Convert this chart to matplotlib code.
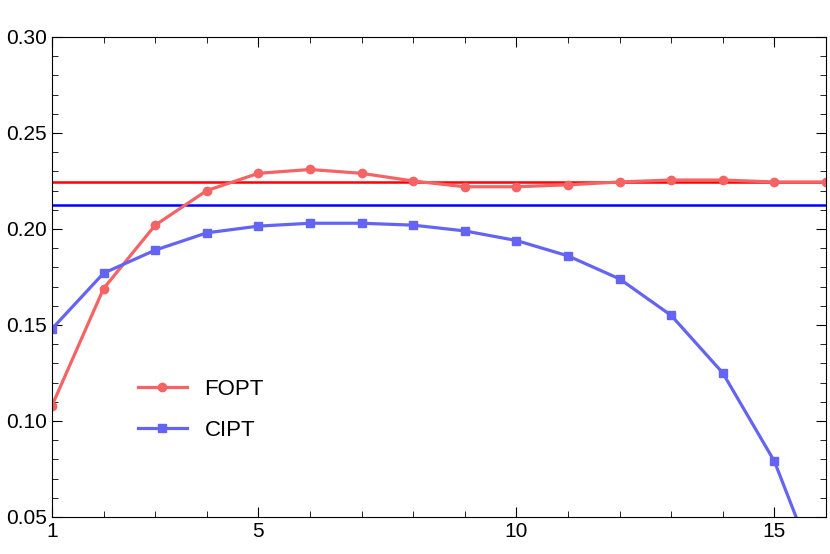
import matplotlib
matplotlib.use('Agg')
import matplotlib.pyplot as plt
from matplotlib.ticker import MultipleLocator

plt.rcParams['font.family'] = 'Liberation Sans'

x = list(range(1, 17))
fopt = [0.108, 0.169, 0.202, 0.220, 0.229, 0.231, 0.229, 0.225, 0.222, 0.222,
        0.223, 0.2245, 0.2255, 0.2255, 0.2245, 0.2245]
cipt = [0.148, 0.177, 0.189, 0.198, 0.2015, 0.203, 0.203, 0.202, 0.199, 0.194,
        0.186, 0.174, 0.155, 0.125, 0.079, 0.010]
fopt_ref = 0.2245
cipt_ref = 0.2125

fig = plt.figure(figsize=(8.3, 5.54), dpi=100)
ax = fig.add_axes([52/830, 37/554, (826-52)/830, (517-37)/554])

ax.axhline(fopt_ref, color='#ff0000', lw=1.8)
ax.axhline(cipt_ref, color='#0000ff', lw=1.8)
ax.plot(x, fopt, '-o', color='#f46464', lw=2.3, ms=6, label='FOPT')
ax.plot(x, cipt, '-s', color='#6464f4', lw=2.3, ms=6, label='CIPT')

ax.set_xlim(1, 16)
ax.set_ylim(0.05, 0.30)
ax.set_xticks([1, 5, 10, 15])
ax.set_yticks([0.05, 0.10, 0.15, 0.20, 0.25, 0.30])
ax.set_yticklabels(['0.05', '0.10', '0.15', '0.20', '0.25', '0.30'])
ax.xaxis.set_minor_locator(MultipleLocator(1))
ax.yaxis.set_minor_locator(MultipleLocator(0.01))
ax.tick_params(which='both', direction='in', top=True, right=True, labelsize=15)
ax.tick_params(which='major', length=7)
ax.tick_params(which='minor', length=4)

ax.legend(loc='upper left', bbox_to_anchor=(0.085, 0.33), frameon=False, fontsize=16,
          handlelength=2.2, labelspacing=0.9)

fig.savefig('out.png', dpi=100)
